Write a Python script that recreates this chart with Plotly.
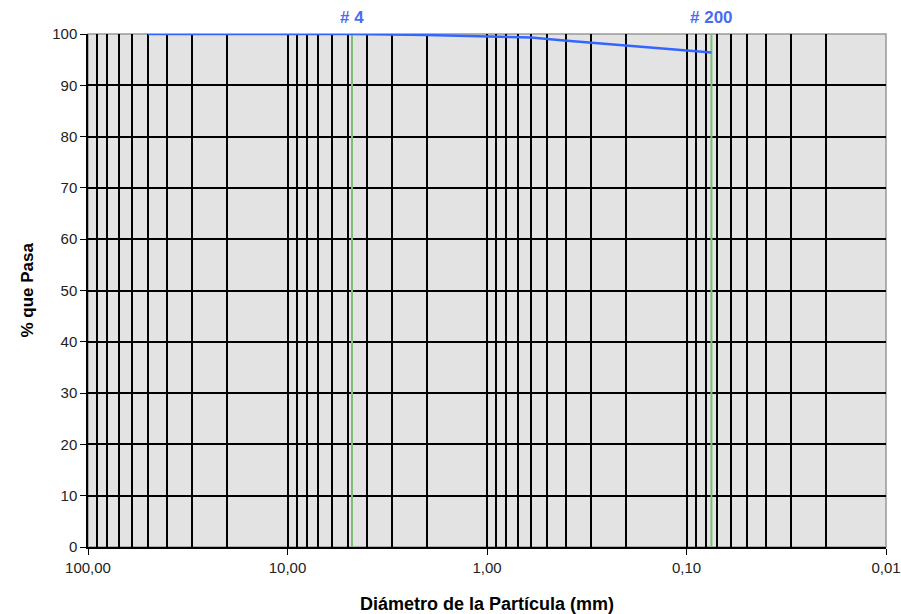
import math
import plotly.graph_objects as go

# Data
diam = [50.0, 37.5, 25.0, 19.0, 12.5, 9.5, 4.75, 2.0, 0.85, 0.6, 0.425, 0.25, 0.15, 0.075]
pasa = [100.0, 100.0, 100.0, 100.0, 100.0, 100.0, 100.0, 99.8, 99.5, 99.3, 98.8, 98.1, 97.4, 96.4]
sieve_names = ["# 4", "# 200"]
sieve_sizes = [4.75, 0.075]
x_ticks = [100, 10, 1, 0.1, 0.01]
x_tick_text = ["100,00", "10,00", "1,00", "0,10", "0,01"]
minor_vals = [m * 10.0 ** e for e in range(-2, 2) for m in range(2, 10)]

FONT = "Arial, Liberation Sans, sans-serif"

fig = go.Figure()

for s in sieve_sizes:
    fig.add_trace(go.Scatter(x=[s, s], y=[0, 100], mode="lines",
                             line=dict(color="#7cbf72", width=2),
                             hoverinfo="skip", showlegend=False))

fig.add_trace(go.Scatter(x=diam, y=pasa, mode="lines",
                         line=dict(color="#3366ff", width=2.5),
                         showlegend=False))

for name, s in zip(sieve_names, sieve_sizes):
    fig.add_annotation(x=math.log10(s), y=1, xref="x", yref="paper",
                       text=f"<b>{name}</b>", showarrow=False,
                       yanchor="bottom", yshift=5,
                       font=dict(color="#4a6cf0", size=17, family=FONT))

# axis titles
fig.add_annotation(x=0.5, y=0, xref="paper", yref="paper", yanchor="middle",
                   yshift=-57, showarrow=False,
                   text="<b>Diámetro de la Partícula (mm)</b>",
                   font=dict(size=18, color="black", family=FONT))
fig.add_annotation(x=0, y=0.5, xref="paper", yref="paper", xanchor="center",
                   xshift=-61, showarrow=False, textangle=-90,
                   text="<b>% que Pasa</b>",
                   font=dict(size=17, color="black", family=FONT))

fig.update_layout(
    width=901, height=614,
    margin=dict(l=88, r=15, t=34, b=67),
    paper_bgcolor="white",
    plot_bgcolor="#e3e3e3",
    font=dict(family=FONT, size=12, color="#222222"),
    xaxis=dict(
        type="log", range=[2, -2], autorange=False, automargin=False,
        tickvals=x_ticks, ticktext=x_tick_text,
        showgrid=True, gridcolor="black", gridwidth=1.5,
        minor=dict(tickvals=minor_vals, showgrid=True, gridcolor="black", gridwidth=1.5,
                   ticks=""),
        ticks="outside", ticklen=6, tickcolor="black",
        showline=True, linecolor="black", linewidth=1.5,
        mirror=False, zeroline=False,
        tickfont=dict(size=15),
    ),
    yaxis=dict(
        range=[0, 100], autorange=False, automargin=False,
        tickvals=list(range(0, 101, 10)),
        showgrid=True, gridcolor="black", gridwidth=1.5,
        ticks="outside", ticklen=6, tickcolor="black",
        showline=True, linecolor="black", linewidth=1.5,
        zeroline=False,
        tickfont=dict(size=15),
    ),
)

# grey top/right frame
fig.add_shape(type="rect", xref="paper", yref="paper", x0=0, y0=0, x1=1, y1=1,
              line=dict(color="#999999", width=1.5), layer="below")

fig.write_html("out.html", config={"displayModeBar": False},
               post_script="document.body.style.margin='0px';document.body.style.overflow='hidden';")
